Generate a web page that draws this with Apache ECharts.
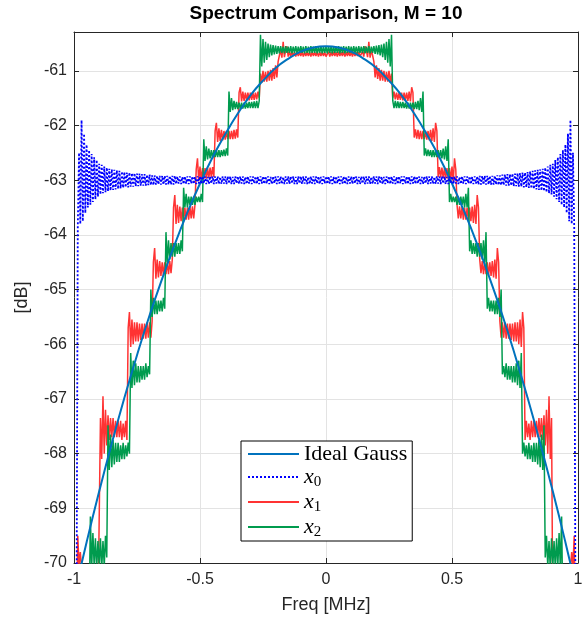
<!DOCTYPE html>
<html><head><meta charset="utf-8">
<script src="https://cdn.jsdelivr.net/npm/echarts@6/dist/echarts.min.js"></script>
<style>html,body{margin:0;padding:0;background:#fff}#c{width:588px;height:623px}</style>
</head><body><div id="c"></div>
<script>
// Frequency grid [MHz]
const freq = [
-1,-0.995,-0.99,-0.985,-0.98,-0.975,-0.97,-0.965,-0.96,-0.955,-0.95,-0.945,-0.94,-0.935,-0.93,-0.925,-0.92,-0.915,-0.91,-0.905,
-0.9,-0.895,-0.89,-0.885,-0.88,-0.875,-0.87,-0.865,-0.86,-0.855,-0.85,-0.845,-0.84,-0.835,-0.83,-0.825,-0.82,-0.815,-0.81,-0.805,
-0.8,-0.795,-0.79,-0.785,-0.78,-0.775,-0.77,-0.765,-0.76,-0.755,-0.75,-0.745,-0.74,-0.735,-0.73,-0.725,-0.72,-0.715,-0.71,-0.705,
-0.7,-0.695,-0.69,-0.685,-0.68,-0.675,-0.67,-0.665,-0.66,-0.655,-0.65,-0.645,-0.64,-0.635,-0.63,-0.625,-0.62,-0.615,-0.61,-0.605,
-0.6,-0.595,-0.59,-0.585,-0.58,-0.575,-0.57,-0.565,-0.56,-0.555,-0.55,-0.545,-0.54,-0.535,-0.53,-0.525,-0.52,-0.515,-0.51,-0.505,
-0.5,-0.495,-0.49,-0.485,-0.48,-0.475,-0.47,-0.465,-0.46,-0.455,-0.45,-0.445,-0.44,-0.435,-0.43,-0.425,-0.42,-0.415,-0.41,-0.405,
-0.4,-0.395,-0.39,-0.385,-0.38,-0.375,-0.37,-0.365,-0.36,-0.355,-0.35,-0.345,-0.34,-0.335,-0.33,-0.325,-0.32,-0.315,-0.31,-0.305,
-0.3,-0.295,-0.29,-0.285,-0.28,-0.275,-0.27,-0.265,-0.26,-0.255,-0.25,-0.245,-0.24,-0.235,-0.23,-0.225,-0.22,-0.215,-0.21,-0.205,
-0.2,-0.195,-0.19,-0.185,-0.18,-0.175,-0.17,-0.165,-0.16,-0.155,-0.15,-0.145,-0.14,-0.135,-0.13,-0.125,-0.12,-0.115,-0.11,-0.105,
-0.1,-0.095,-0.09,-0.085,-0.08,-0.075,-0.07,-0.065,-0.06,-0.055,-0.05,-0.045,-0.04,-0.035,-0.03,-0.025,-0.02,-0.015,-0.01,-0.005,
0,0.005,0.01,0.015,0.02,0.025,0.03,0.035,0.04,0.045,0.05,0.055,0.06,0.065,0.07,0.075,0.08,0.085,0.09,0.095,
0.1,0.105,0.11,0.115,0.12,0.125,0.13,0.135,0.14,0.145,0.15,0.155,0.16,0.165,0.17,0.175,0.18,0.185,0.19,0.195,
0.2,0.205,0.21,0.215,0.22,0.225,0.23,0.235,0.24,0.245,0.25,0.255,0.26,0.265,0.27,0.275,0.28,0.285,0.29,0.295,
0.3,0.305,0.31,0.315,0.32,0.325,0.33,0.335,0.34,0.345,0.35,0.355,0.36,0.365,0.37,0.375,0.38,0.385,0.39,0.395,
0.4,0.405,0.41,0.415,0.42,0.425,0.43,0.435,0.44,0.445,0.45,0.455,0.46,0.465,0.47,0.475,0.48,0.485,0.49,0.495,
0.5,0.505,0.51,0.515,0.52,0.525,0.53,0.535,0.54,0.545,0.55,0.555,0.56,0.565,0.57,0.575,0.58,0.585,0.59,0.595,
0.6,0.605,0.61,0.615,0.62,0.625,0.63,0.635,0.64,0.645,0.65,0.655,0.66,0.665,0.67,0.675,0.68,0.685,0.69,0.695,
0.7,0.705,0.71,0.715,0.72,0.725,0.73,0.735,0.74,0.745,0.75,0.755,0.76,0.765,0.77,0.775,0.78,0.785,0.79,0.795,
0.8,0.805,0.81,0.815,0.82,0.825,0.83,0.835,0.84,0.845,0.85,0.855,0.86,0.865,0.87,0.875,0.88,0.885,0.89,0.895,
0.9,0.905,0.91,0.915,0.92,0.925,0.93,0.935,0.94,0.945,0.95,0.955,0.96,0.965,0.97,0.975,0.98,0.985,0.99,0.995,
1];

// Ideal Gauss [dB]
const gaussFreq = [-1,-0.95,-0.9,-0.85,-0.8,-0.75,-0.7,-0.65,-0.6,-0.55,-0.5,-0.45,-0.4,-0.35,-0.3,-0.25,-0.2,-0.15,-0.1,-0.05,
0,0.05,0.1,0.15,0.2,0.25,0.3,0.35,0.4,0.45,0.5,0.55,0.6,0.65,0.7,0.75,0.8,0.85,0.9,0.95,1];
const gaussDb = [-70.6,-69.62,-68.69,-67.81,-66.98,-66.2,-65.47,-64.8,-64.17,-63.59,-63.06,-62.58,-62.16,-61.78,-61.45,-61.18,-60.95,-60.78,-60.65,-60.575,
-60.55,-60.575,-60.65,-60.78,-60.95,-61.18,-61.45,-61.78,-62.16,-62.58,-63.06,-63.59,-64.17,-64.8,-65.47,-66.2,-66.98,-67.81,-68.69,-69.62,-70.6];

// x0 [dB]
const x0Db = [
-71,-71,-71,
-63.85,-62.5,-63.8,-61.9,-63.75,-62.15,-63.6,-62.35,-63.5,-62.45,
-63.45,-62.52,-63.4,-62.58,-63.35,-62.63,-63.3,-62.7,-63.26,-62.72,
-63.24,-62.75,-63.22,-62.77,-63.2,-62.79,-63.19,-62.8,-63.18,-62.81,
-63.17,-62.82,-63.16,-62.83,-63.15,-62.84,-63.14,-62.85,-63.13,-62.86,
-63.13,-62.86,-63.12,-62.87,-63.12,-62.87,-63.11,-62.88,-63.11,-62.88,
-63.1,-62.89,-63.1,-62.89,-63.1,-62.9,-63.09,-62.9,-63.09,-62.91,
-63.09,-62.91,-63.08,-62.92,-63.08,-62.92,-63.08,-62.92,-63.08,-62.92,
-63.08,-62.92,-63.08,-62.92,-63.08,-62.92,-63.08,-62.92,
-63.07,-62.93,-63.06,-62.93,-63.07,-62.94,-63.07,-62.93,-63.06,-62.93,
-63.07,-62.93,-63.06,-62.93,-63.07,-62.94,-63.07,-62.93,-63.06,-62.93,
-63.07,-62.93,-63.06,-62.93,-63.07,-62.94,-63.07,-62.93,-63.06,-62.93,
-63.07,-62.93,-63.06,-62.93,-63.07,-62.94,-63.07,-62.93,-63.06,-62.93,
-63.07,-62.93,-63.06,-62.93,-63.07,-62.94,-63.07,-62.93,-63.06,-62.93,
-63.07,-62.93,-63.06,-62.93,-63.07,-62.94,-63.07,-62.93,-63.06,-62.93,
-63.07,-62.93,-63.06,-62.93,-63.07,-62.94,-63.07,-62.93,-63.06,-62.93,
-63.07,-62.93,-63.06,-62.93,-63.07,-62.94,-63.07,-62.93,-63.06,-62.93,
-63.07,-62.93,-63.06,-62.93,-63.07,-62.94,-63.07,-62.93,-63.06,-62.93,
-63.07,-62.93,-63.06,-62.93,-63.07,-62.94,-63.07,-62.93,-63.06,-62.93,
-63.07,-62.93,-63.06,-62.93,-63.07,-62.94,-63.07,-62.93,-63.06,-62.93,
-63.07,-62.93,-63.06,-62.93,-63.07,-62.94,-63.07,-62.93,-63.06,-62.93,
-63.07,-62.93,-63.06,-62.93,-63.07,-62.94,-63.07,-62.93,-63.06,-62.93,
-63.07,-62.93,-63.06,-62.93,-63.07,-62.94,-63.07,-62.93,-63.06,-62.93,
-63.07,-62.93,-63.06,-62.93,-63.07,-62.94,-63.07,-62.93,-63.06,-62.93,
-63.07,-62.93,-63.06,-62.93,-63.07,-62.94,-63.07,-62.93,-63.06,-62.93,
-63.07,-62.93,-63.06,-62.93,-63.07,-62.94,-63.07,-62.93,-63.06,-62.93,
-63.07,-62.93,-63.06,-62.93,-63.07,-62.94,-63.07,-62.93,-63.06,-62.93,
-63.07,-62.93,-63.06,-62.93,-63.07,-62.94,-63.07,-62.93,-63.06,-62.93,
-63.07,-62.93,-63.06,-62.93,-63.07,-62.94,-63.07,-62.93,-63.06,-62.93,
-63.07,-62.93,-63.06,-62.93,-63.07,-62.94,-63.07,-62.93,-63.06,-62.93,
-63.07,-62.93,-63.06,-62.93,-63.07,-62.94,-63.07,-62.93,-63.06,-62.93,
-63.07,-62.93,-63.06,-62.93,-63.07,-62.94,-63.07,-62.93,-63.06,-62.93,
-63.07,-62.93,-63.06,-62.93,-63.07,-62.94,-63.07,-62.93,-63.06,-62.93,
-63.08,-62.92,-63.08,-62.92,-63.08,-62.92,-63.08,-62.92,-63.08,-62.92,
-63.08,-62.92,-63.08,-62.92,-63.08,-62.91,-63.09,-62.91,-63.09,-62.9,
-63.09,-62.9,-63.1,-62.89,-63.1,-62.89,-63.1,-62.88,-63.11,-62.88,
-63.11,-62.87,-63.12,-62.87,-63.12,-62.86,-63.13,-62.86,-63.13,-62.85,
-63.14,-62.84,-63.15,-62.83,-63.16,-62.82,-63.17,-62.81,-63.18,-62.8,
-63.19,-62.79,-63.2,-62.77,-63.22,-62.75,-63.24,-62.72,-63.26,-62.7,
-63.3,-62.63,-63.35,-62.58,-63.4,-62.52,-63.45,-62.45,-63.5,-62.35,
-63.6,-62.15,-63.75,-61.9,-63.8,-62.5,-63.85,
-71,-71,-71];

// x1 [dB]
const x1Db = [
-71,-71,-71,
-69.5,-70.05,-69.8,-70.1,
-71,-71,-71,-71,-71,-71,-71,-71,-71,-71,-71,-71,-71,-71,
-67.35,-68.1,-66.95,-68.0,-67.2,-67.85,-67.3,-67.75,-67.35,-67.7,-67.35,-67.7,-67.4,-67.7,-67.4,-67.7,-67.4,-67.75,-67.45,-67.7,-67.4,-67.75,
-65.7,-65.41,-66.05,-65.55,-66.0,-65.6,-65.95,-65.6,-65.95,-65.62,-65.92,-65.62,-65.9,-65.62,-65.9,-65.6,-65.88,-65.6,-65.88,-65.58,
-64.5,-64.24,-64.8,-64.45,-64.78,-64.48,-64.75,-64.5,-64.75,-64.5,-64.72,-64.5,-64.72,-64.48,-64.7,-64.45,
-63.5,-63.27,-63.8,-63.45,-63.78,-63.48,-63.75,-63.5,-63.75,-63.5,-63.72,-63.5,-63.72,-63.48,-63.7,-63.48,-63.7,-63.45,
-62.8,-62.6,-63.02,-62.75,-63.0,-62.78,-62.98,-62.78,-62.97,-62.78,-62.96,-62.77,-62.95,-62.76,-62.94,
-62.1,-61.95,-62.3,-62.05,-62.28,-62.08,-62.27,-62.1,-62.26,-62.1,-62.25,-62.1,-62.25,-62.1,-62.25,-62.08,-62.24,-62.07,-62.22,
-61.4,-61.3,-61.56,-61.38,-61.55,-61.4,-61.54,-61.4,-61.54,-61.4,-61.53,-61.4,-61.53,-61.4,-61.52,-61.38,-61.5,
-61.05,-61.22,-61.0,-61.2,-61.02,-61.2,-61.0,-61.18,-60.98,-61.18,-60.95,-61.15,-60.9,-61.12,-60.83,
-60.72,-60.62,-60.76,-60.47,-60.75,-60.62,-60.55,-60.74,-60.64,-60.74,
-60.65,-60.73,-60.66,-60.74,-60.65,-60.73,-60.66,-60.73,-60.65,-60.74,
-60.66,-60.73,-60.65,-60.73,-60.66,-60.74,-60.65,-60.73,-60.66,-60.73,
-60.65,-60.74,-60.66,-60.73,-60.65,-60.73,-60.66,-60.74,
-60.73,-60.65,-60.74,-60.66,-60.73,-60.65,-60.73,-60.66,-60.74,-60.65,
-60.73,-60.66,-60.73,-60.65,-60.74,-60.66,-60.73,-60.65,-60.73,-60.66,
-60.74,-60.65,-60.73,-60.66,-60.73,-60.65,-60.74,
-60.74,-60.64,-60.74,-60.55,-60.62,-60.75,-60.47,-60.76,-60.62,-60.72,
-60.83,-61.12,-60.9,-61.15,-60.95,-61.18,-60.98,-61.18,-61.0,-61.2,-61.02,-61.2,-61.0,-61.22,-61.05,
-61.5,-61.38,-61.52,-61.4,-61.53,-61.4,-61.53,-61.4,-61.54,-61.4,-61.54,-61.4,-61.55,-61.38,-61.56,-61.3,-61.4,
-62.22,-62.07,-62.24,-62.08,-62.25,-62.1,-62.25,-62.1,-62.25,-62.1,-62.26,-62.1,-62.27,-62.08,-62.28,-62.05,-62.3,-61.95,-62.1,
-62.94,-62.76,-62.95,-62.77,-62.96,-62.78,-62.97,-62.78,-62.98,-62.78,-63.0,-62.75,-63.02,-62.6,-62.8,
-63.45,-63.7,-63.48,-63.7,-63.48,-63.72,-63.5,-63.72,-63.5,-63.75,-63.5,-63.75,-63.48,-63.78,-63.45,-63.8,-63.27,-63.5,
-64.45,-64.7,-64.48,-64.72,-64.5,-64.72,-64.5,-64.75,-64.5,-64.75,-64.48,-64.78,-64.45,-64.8,-64.24,-64.5,
-65.58,-65.88,-65.6,-65.88,-65.6,-65.9,-65.62,-65.9,-65.62,-65.92,-65.62,-65.95,-65.6,-65.95,-65.6,-66.0,-65.55,-66.05,-65.41,-65.7,
-67.75,-67.4,-67.7,-67.45,-67.75,-67.4,-67.7,-67.4,-67.7,-67.4,-67.7,-67.35,-67.7,-67.35,-67.75,-67.3,-67.85,-67.2,-68.0,-66.95,-68.1,-67.35,
-71,-71,-71,-71,-71,-71,-71,-71,-71,-71,-71,-71,-71,-71,
-70.1,-69.8,-70.05,-69.5,
-71,-71,-71];

// x2 [dB]
const x2Db = [
-71,-71,-71,-71,-71,-71,-71,-71,-71,-71,-71,-71,-71,
-69.15,-70.1,-69.45,-70.05,-69.55,-70.1,-69.6,-70.05,-69.55,-70.1,-69.6,-70.05,-69.5,-69.9,
-67.48,-68.3,-67.65,-68.25,-67.75,-68.2,-67.8,-68.15,-67.8,-68.15,-67.85,-68.1,-67.8,-68.1,-67.85,-68.05,-67.8,-68.0,
-66.16,-66.8,-66.3,-66.75,-66.35,-66.7,-66.4,-66.7,-66.4,-66.65,-66.4,-66.65,-66.35,-66.6,-66.4,-66.55,
-65.0,-65.5,-65.15,-65.45,-65.2,-65.45,-65.2,-65.4,-65.2,-65.4,-65.15,-65.35,
-63.95,-64.5,-64.1,-64.45,-64.15,-64.4,-64.15,-64.4,-64.15,-64.35,-64.15,-64.35,-64.1,-64.3,
-63.14,-63.5,-63.25,-63.5,-63.3,-63.45,-63.3,-63.45,-63.3,-63.45,-63.3,-63.4,-63.3,-63.4,-63.25,-63.4,
-62.25,-62.65,-62.38,-62.62,-62.42,-62.6,-62.45,-62.6,-62.45,-62.58,-62.45,-62.58,-62.45,-62.58,-62.45,-62.56,-62.44,-62.56,-62.42,-62.55,
-61.38,-61.75,-61.5,-61.72,-61.55,-61.7,-61.57,-61.7,-61.58,-61.7,-61.58,-61.69,-61.58,-61.69,-61.58,-61.68,-61.57,-61.68,-61.57,-61.68,-61.56,-61.68,-61.55,-61.68,-61.55,
-60.34,-60.92,-60.42,-60.85,-60.47,-60.8,-60.5,-60.75,-60.52,-60.72,-60.53,-60.7,-60.54,-60.69,
-60.55,-60.68,-60.55,-60.67,-60.56,-60.68,-60.55,-60.67,-60.56,-60.67,
-60.55,-60.68,-60.56,-60.67,-60.55,-60.68,-60.56,-60.67,-60.55,-60.67,
-60.56,-60.68,-60.55,-60.67,-60.56,-60.68,-60.55,-60.67,-60.56,-60.67,
-60.55,-60.68,-60.56,-60.67,-60.55,-60.68,-60.56,-60.67,-60.56,
-60.68,-60.55,-60.67,-60.56,-60.68,-60.55,-60.67,-60.56,-60.67,-60.55,
-60.68,-60.56,-60.67,-60.55,-60.68,-60.56,-60.67,-60.55,-60.67,-60.56,
-60.68,-60.55,-60.67,-60.56,-60.68,-60.55,-60.67,-60.56,-60.67,-60.55,
-60.68,-60.56,-60.67,-60.55,-60.68,-60.56,-60.67,-60.55,
-60.69,-60.54,-60.7,-60.53,-60.72,-60.52,-60.75,-60.5,-60.8,-60.47,-60.85,-60.42,-60.92,-60.34,
-61.55,-61.68,-61.55,-61.68,-61.56,-61.68,-61.57,-61.68,-61.57,-61.68,-61.58,-61.69,-61.58,-61.69,-61.58,-61.7,-61.58,-61.7,-61.57,-61.7,-61.55,-61.72,-61.5,-61.75,-61.38,
-62.55,-62.42,-62.56,-62.44,-62.56,-62.45,-62.58,-62.45,-62.58,-62.45,-62.58,-62.45,-62.6,-62.45,-62.6,-62.42,-62.62,-62.38,-62.65,-62.25,
-63.4,-63.25,-63.4,-63.3,-63.4,-63.3,-63.45,-63.3,-63.45,-63.3,-63.45,-63.3,-63.5,-63.25,-63.5,-63.14,
-64.3,-64.1,-64.35,-64.15,-64.35,-64.15,-64.4,-64.15,-64.4,-64.15,-64.45,-64.1,-64.5,-63.95,
-65.35,-65.15,-65.4,-65.2,-65.4,-65.2,-65.45,-65.2,-65.45,-65.15,-65.5,-65.0,
-66.55,-66.4,-66.6,-66.35,-66.65,-66.4,-66.65,-66.4,-66.7,-66.4,-66.7,-66.35,-66.75,-66.3,-66.8,-66.16,
-68.0,-67.8,-68.05,-67.85,-68.1,-67.8,-68.1,-67.85,-68.15,-67.8,-68.15,-67.8,-68.2,-67.75,-68.25,-67.65,-68.3,-67.48,
-69.9,-69.5,-70.05,-69.6,-70.1,-69.55,-70.05,-69.6,-70.1,-69.55,-70.05,-69.45,-70.1,-69.15,
-71,-71,-71,-71,-71,-71,-71,-71,-71,-71,-71,-71,-71];

// Axis ranges / ticks
const xRange = [-1, 1], xStep = 0.5;
const yRange = [-70, -60.29], yStep = 1;
const seriesNames = ['Ideal Gauss', 'x0', 'x1', 'x2'];
const titleText = 'Spectrum Comparison, M = 10';

const SANS = 'Liberation Sans, Arial, Helvetica, sans-serif';
const SERIF = 'Liberation Serif, Times New Roman, serif';
const AX = '#262626';
const pairs = (xs, ys) => xs.map((x, i) => [x, ys[i]]);

const chart = echarts.init(document.getElementById('c'), null, {renderer: 'canvas'});

const xBase = {
  type: 'value', min: xRange[0], max: xRange[1], interval: xStep,
  axisLine: {show: true, onZero: false, lineStyle: {color: AX, width: 1}},
  axisTick: {show: true, inside: true, length: 5, lineStyle: {color: AX}},
};
const yBase = {
  type: 'value', min: yRange[0], max: yRange[1], interval: yStep,
  axisLine: {show: true, onZero: false, lineStyle: {color: AX, width: 1}},
  axisTick: {show: true, inside: true, length: 5, lineStyle: {color: AX}},
};

const option = {
  animation: false,
  backgroundColor: '#fff',
  graphic: [{
    type: 'text', x: 326, y: 4, silent: true,
    style: {text: titleText, align: 'center', verticalAlign: 'top', fill: '#000',
      font: 'bold 19px Liberation Sans, Arial, sans-serif'}
  }],
  grid: {left: 74, right: 10, top: 32, bottom: 60, containLabel: false, outerBoundsMode: 'none'},
  legend: {
    data: seriesNames, orient: 'vertical', left: 241, top: 441,
    itemWidth: 51, itemHeight: 12, itemGap: 1,
    padding: [2, 5, 1, 6],
    borderColor: '#000', borderWidth: 1, backgroundColor: '#fff',
    selectedMode: false,
    itemStyle: {opacity: 0, borderWidth: 0},
    formatter: function (name) {
      if (name === 'Ideal Gauss') return '{g|Ideal Gauss}';
      return '{v|x}{s|' + name.slice(1) + '}';
    },
    textStyle: {
      color: '#000', fontFamily: SERIF, fontSize: 22,
      rich: {
        g: {fontFamily: SERIF, fontSize: 22, lineHeight: 26, color: '#000'},
        v: {fontFamily: SERIF, fontStyle: 'italic', fontSize: 22, lineHeight: 26, color: '#000'},
        s: {fontFamily: SERIF, fontSize: 15, lineHeight: 8, verticalAlign: 'bottom', color: '#000'}
      }
    }
  },
  xAxis: [
    Object.assign({}, xBase, {
      position: 'bottom',
      axisLabel: {show: true, color: AX, fontFamily: SANS, fontSize: 16, margin: 9, showMinLabel: true, showMaxLabel: true},
      splitLine: {show: true, lineStyle: {color: '#e3e3e3', width: 1}},
      name: 'Freq [MHz]', nameLocation: 'middle', nameGap: 33,
      nameTextStyle: {color: AX, fontFamily: SANS, fontSize: 18}
    }),
    Object.assign({}, xBase, {position: 'top', axisLabel: {show: false}, splitLine: {show: false}})
  ],
  yAxis: [
    Object.assign({}, yBase, {
      position: 'left',
      axisLabel: {show: true, color: AX, fontFamily: SANS, fontSize: 16, margin: 7, showMaxLabel: false},
      splitLine: {show: true, lineStyle: {color: '#e3e3e3', width: 1}},
      name: '[dB]', nameLocation: 'middle', nameGap: 43, nameRotate: 90,
      nameTextStyle: {color: AX, fontFamily: SANS, fontSize: 18}
    }),
    Object.assign({}, yBase, {position: 'right', axisLabel: {show: false}, splitLine: {show: false}})
  ],
  series: [
    {
      name: 'x1', type: 'line', data: pairs(freq, x1Db), symbol: 'none', showSymbol: false,
      lineStyle: {color: '#FF3333', width: 1.5}, itemStyle: {color: '#FF3333'}, z: 2, silent: true,
      emphasis: {disabled: true}, clip: true
    },
    {
      name: 'x2', type: 'line', data: pairs(freq, x2Db), symbol: 'none', showSymbol: false,
      lineStyle: {color: '#009B4E', width: 1.5}, itemStyle: {color: '#009B4E'}, z: 3, silent: true,
      emphasis: {disabled: true}, clip: true
    },
    {
      name: 'Ideal Gauss', type: 'line', data: pairs(gaussFreq, gaussDb), symbol: 'none', showSymbol: false,
      smooth: true, lineStyle: {color: '#0072BD', width: 2}, itemStyle: {color: '#0072BD'}, z: 4, silent: true,
      emphasis: {disabled: true}, clip: true
    },
    {
      name: 'x0', type: 'line', data: pairs(freq, x0Db), symbol: 'none', showSymbol: false,
      lineStyle: {color: '#0000FF', width: 1.8, type: [2, 2]}, itemStyle: {color: '#0000FF'}, z: 5, silent: true,
      emphasis: {disabled: true}, clip: true
    }
  ]
};
chart.setOption(option);
</script>
</body></html>
